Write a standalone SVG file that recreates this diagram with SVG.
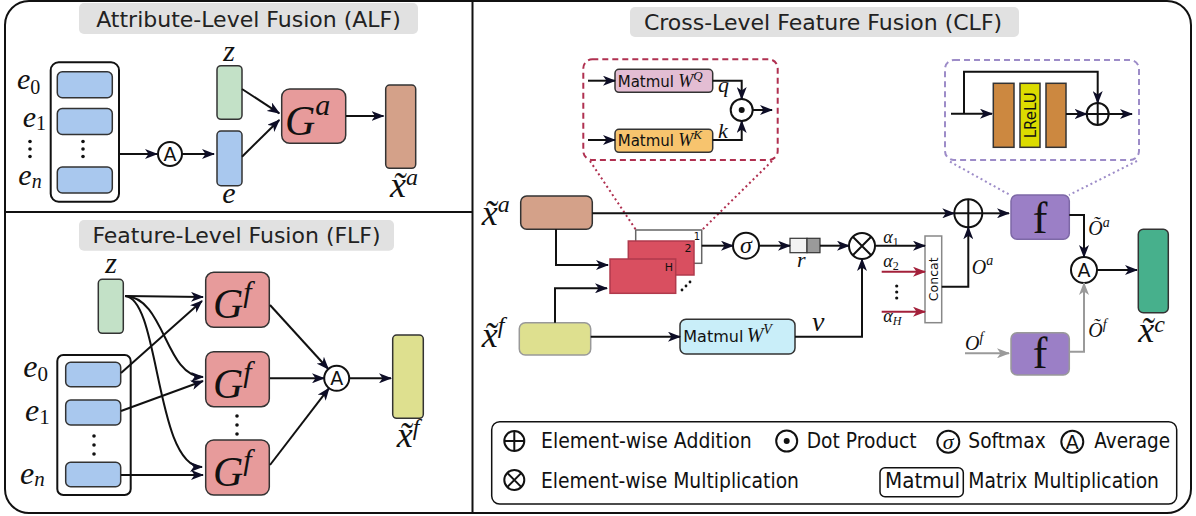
<svg xmlns="http://www.w3.org/2000/svg" width="1196" height="516" viewBox="0 0 1196 516">
<defs>
<style>
.frame{fill:none;stroke:#111;stroke-width:2}
.ttlbg{fill:#e1e1e1}
.ttl{font-family:"DejaVu Sans",sans-serif;font-size:22px;fill:#222;text-anchor:middle}
.sf{font-family:"DejaVu Sans",sans-serif;fill:#111}
.mi{font-family:"Liberation Serif",serif;font-style:italic;fill:#111}
.rm{font-family:"Liberation Serif",serif;font-style:normal;fill:#111}
.box{stroke:#333;stroke-width:1.5}
.blue{fill:#a9c8ee}
.green{fill:#c3e1c7}
.gbox{fill:#e79b9b}
.brown{fill:#d4a189}
.yel{fill:#dee08f}
.purple{fill:#9b7fc6}
.op{fill:#fff;stroke:#111;stroke-width:2}
.opl{fill:none;stroke:#111;stroke-width:2}
.ln{fill:none;stroke:#111;stroke-width:2}
.arr{fill:none;stroke:#111;stroke-width:2;marker-end:url(#ah)}
.arrr{fill:none;stroke:#a3203a;stroke-width:2;marker-end:url(#ahr)}
.arrg{fill:none;stroke:#9a9a9a;stroke-width:2;marker-end:url(#ahg)}
.dotr{fill:none;stroke:#b03050;stroke-width:2;stroke-dasharray:2 3}
.dotp{fill:none;stroke:#9d8cc8;stroke-width:2;stroke-dasharray:2 3}
.dot{fill:#111}
.lg{font-family:"DejaVu Sans",sans-serif;fill:#111;font-size:21px}
</style>
<marker id="ah" viewBox="0 0 13 10" refX="12" refY="5" markerWidth="13" markerHeight="10" markerUnits="userSpaceOnUse" orient="auto"><path d="M0,0 L13,5 L0,10 L3.5,5 z" fill="#0d0d26"/></marker>
<marker id="ahr" viewBox="0 0 13 10" refX="12" refY="5" markerWidth="13" markerHeight="10" markerUnits="userSpaceOnUse" orient="auto"><path d="M0,0 L13,5 L0,10 L3.5,5 z" fill="#a3203a"/></marker>
<marker id="ahg" viewBox="0 0 13 10" refX="12" refY="5" markerWidth="13" markerHeight="10" markerUnits="userSpaceOnUse" orient="auto"><path d="M0,0 L13,5 L0,10 L3.5,5 z" fill="#9a9a9a"/></marker>
</defs>
<rect width="1196" height="516" fill="#fff"/>

<!-- frame -->
<g id="frame">
<rect class="frame" x="5" y="1" width="1186" height="512" rx="24"/>
<line class="frame" x1="472.5" y1="1" x2="472.5" y2="513"/>
<line class="frame" x1="5" y1="212" x2="472.5" y2="212"/>
</g>

<!-- ===== ALF ===== -->
<g id="alf-title">
<rect class="ttlbg" x="79" y="3" width="339" height="31" rx="5"/>
<text class="ttl" x="248.5" y="27">Attribute-Level Fusion (ALF)</text>
</g>
<g id="alf-e-stack">
<rect x="50.7" y="62.3" width="68.3" height="139.4" rx="8" fill="#fff" stroke="#111" stroke-width="2"/>
<rect class="box blue" x="57.3" y="71.7" width="55" height="26" rx="5"/>
<rect class="box blue" x="57.3" y="108.5" width="55" height="26" rx="5"/>
<rect class="box blue" x="57.3" y="167" width="55" height="26" rx="5"/>
<circle class="dot" cx="83" cy="141.5" r="1.8"/><circle class="dot" cx="83" cy="149" r="1.8"/><circle class="dot" cx="83" cy="156.5" r="1.8"/>
<circle class="dot" cx="30" cy="141.5" r="1.8"/><circle class="dot" cx="30" cy="149" r="1.8"/><circle class="dot" cx="30" cy="156.5" r="1.8"/>
<text class="mi" x="17" y="89" font-size="30">e<tspan class="rm" font-size="20" dy="5">0</tspan></text>
<text class="mi" x="22.7" y="127" font-size="30">e<tspan class="rm" font-size="20" dy="3">1</tspan></text>
<text class="mi" x="18.3" y="185" font-size="30">e<tspan font-size="20" dy="3">n</tspan></text>
</g>
<g id="alf-avg">
<circle class="op" cx="170" cy="154" r="12"/>
<text class="sf" x="170" y="161" font-size="19" text-anchor="middle">A</text>
</g>
<g id="alf-z">
<rect class="box green" x="217" y="65.7" width="25" height="53.6" rx="4"/>
<text class="mi" x="229" y="61" font-size="30" text-anchor="middle">z</text>
</g>
<g id="alf-e">
<rect class="box blue" x="217" y="131" width="25" height="54.7" rx="4"/>
<text class="mi" x="229" y="203" font-size="30" text-anchor="middle">e</text>
</g>
<g id="alf-Ga">
<rect class="box gbox" x="281.7" y="89" width="64" height="54.3" rx="8"/>
<text class="mi" x="285" y="135" font-size="42">G<tspan font-size="30" dy="-20">a</tspan></text>
</g>
<g id="alf-xa">
<rect class="box brown" x="385.7" y="85" width="30" height="83.3" rx="4"/>
<text class="mi" x="390" y="197" font-size="36">x&#x303;<tspan font-size="24" dy="-12">a</tspan></text>
</g>

<!-- ===== FLF ===== -->
<g id="flf-title">
<rect class="ttlbg" x="79" y="220" width="315" height="30.7" rx="5"/>
<text class="ttl" x="236.5" y="243">Feature-Level Fusion (FLF)</text>
</g>
<g id="flf-z">
<rect class="box green" x="98.3" y="279.3" width="25" height="54" rx="4"/>
<text class="mi" x="111" y="273" font-size="30" text-anchor="middle">z</text>
</g>
<g id="flf-e-stack">
<rect x="57.3" y="355" width="73.4" height="140" rx="6" fill="#fff" stroke="#111" stroke-width="2"/>
<rect class="box blue" x="65.7" y="362.3" width="55" height="24.4" rx="5"/>
<rect class="box blue" x="65.7" y="400" width="55" height="25" rx="5"/>
<rect class="box blue" x="65.7" y="462.3" width="55" height="24.4" rx="5"/>
<circle class="dot" cx="94" cy="436" r="1.8"/><circle class="dot" cx="94" cy="445" r="1.8"/><circle class="dot" cx="94" cy="454" r="1.8"/>
<text class="mi" x="23.3" y="376.7" font-size="32">e<tspan class="rm" font-size="21" dy="4">0</tspan></text>
<text class="mi" x="25" y="420.7" font-size="32">e<tspan class="rm" font-size="21" dy="3">1</tspan></text>
<text class="mi" x="20" y="484" font-size="32">e<tspan font-size="21" dy="2">n</tspan></text>
</g>
<g id="flf-G1">
<rect class="box gbox" x="205.7" y="272.3" width="63.6" height="55" rx="8"/>
<text class="mi" x="213" y="318.3" font-size="42">G<tspan font-size="30" dy="-16">f</tspan></text>
</g>
<g id="flf-G2">
<rect class="box gbox" x="205.7" y="351.7" width="63.6" height="55" rx="8"/>
<text class="mi" x="213" y="397.7" font-size="42">G<tspan font-size="30" dy="-16">f</tspan></text>
</g>
<g id="flf-dots">
<circle class="dot" cx="237" cy="416" r="1.8"/><circle class="dot" cx="237" cy="425" r="1.8"/><circle class="dot" cx="237" cy="434" r="1.8"/>
</g>
<g id="flf-G3">
<rect class="box gbox" x="205.7" y="440" width="63.6" height="55" rx="8"/>
<text class="mi" x="213" y="486" font-size="42">G<tspan font-size="30" dy="-16">f</tspan></text>
</g>
<g id="flf-avg">
<circle class="op" cx="336.7" cy="378.3" r="12.5"/>
<text class="sf" x="336.7" y="385.3" font-size="19" text-anchor="middle">A</text>
</g>
<g id="flf-xf">
<rect class="box yel" x="392.7" y="335" width="30.6" height="83.3" rx="4"/>
<text class="mi" x="396.7" y="447" font-size="36">x&#x303;<tspan font-size="24" dy="-12">f</tspan></text>
</g>

<!-- ===== CLF ===== -->
<g id="clf-title">
<rect class="ttlbg" x="630" y="7" width="389" height="30" rx="5"/>
<text class="ttl" x="823" y="30">Cross-Level Feature Fusion (CLF)</text>
</g>
<g id="clf-attn-detail">
<rect x="583.3" y="59.3" width="194.4" height="100.7" rx="9" fill="none" stroke="#b03050" stroke-width="2" stroke-dasharray="6 4"/>
<rect class="box" x="615" y="69.3" width="97.7" height="23" rx="4" fill="#e3bdd3"/>
<text x="617.7" y="86.7"><tspan class="sf" font-size="15">Matmul</tspan><tspan class="mi" x="678.3" font-size="18">W</tspan><tspan class="mi" font-size="13" dy="-7">Q</tspan></text>
<rect class="box" x="615" y="129.3" width="97.7" height="23" rx="4" fill="#f7c46e"/>
<text x="617.7" y="146"><tspan class="sf" font-size="15">Matmul</tspan><tspan class="mi" x="678.3" font-size="18">W</tspan><tspan class="mi" font-size="13" dy="-7">K</tspan></text>
<circle class="op" cx="741.7" cy="110" r="11"/>
<circle class="dot" cx="741.7" cy="110" r="3"/>
<text class="mi" x="718" y="92" font-size="22">q</text>
<text class="mi" x="718" y="138.3" font-size="22">k</text>
</g>
<g id="clf-res-detail">
<rect x="945" y="60" width="194" height="100" rx="9" fill="none" stroke="#9d8cc8" stroke-width="2" stroke-dasharray="6 4"/>
<rect class="box" x="993.3" y="83.3" width="20.7" height="64" fill="#cc8840"/>
<rect class="box" x="1020" y="83.3" width="20" height="64" fill="#dcdc00"/>
<text class="sf" transform="translate(1035.5,115.3) rotate(-90)" x="0" y="0" font-size="15" text-anchor="middle">LReLU</text>
<rect class="box" x="1046" y="83.3" width="20" height="64" fill="#cc8840"/>
<circle class="op" cx="1097.7" cy="114" r="11"/>
<path class="opl" d="M1086.7,114 H1108.7 M1097.7,103 V125"/>
</g>
<g id="clf-xa">
<rect class="box brown" x="520.7" y="196" width="71.6" height="33.3" rx="6"/>
<text class="mi" x="481.7" y="225" font-size="36">x&#x303;<tspan font-size="24" dy="-13">a</tspan></text>
</g>
<g id="clf-xf">
<rect x="519.3" y="322.7" width="71.4" height="32.3" rx="6" fill="#dee08f" stroke="#999" stroke-width="1.5"/>
<text class="mi" x="481.7" y="346.7" font-size="36">x&#x303;<tspan font-size="24" dy="-14">f</tspan></text>
</g>
<g id="clf-heads">
<rect x="635.7" y="230" width="66" height="33.3" fill="#fff" stroke="#666" stroke-width="1.5"/>
<text class="sf" x="697" y="239.5" font-size="10" fill="#555" text-anchor="middle">1</text>
<rect x="628.3" y="241" width="65.7" height="34" fill="#d94f60" stroke="#b03a4c" stroke-width="1.5"/>
<text class="sf" x="688" y="252" font-size="11" text-anchor="middle">2</text>
<rect x="610" y="259" width="65.7" height="34.3" fill="#d94f60" stroke="#b03a4c" stroke-width="1.5"/>
<text class="sf" x="669" y="271" font-size="11" text-anchor="middle">H</text>
<circle class="dot" cx="682" cy="290" r="1.4"/><circle class="dot" cx="686" cy="286" r="1.4"/><circle class="dot" cx="690" cy="282" r="1.4"/>
</g>
<g id="clf-softmax">
<circle class="op" cx="746" cy="245.7" r="13"/>
<text class="mi" x="746" y="253" font-size="24" text-anchor="middle">σ</text>
</g>
<g id="clf-r">
<rect x="790" y="238.3" width="17" height="14.4" fill="#f2f2f2" stroke="#333" stroke-width="1.2"/>
<rect x="807" y="238.3" width="13" height="14.4" fill="#9a9a9a" stroke="#333" stroke-width="1.2"/>
<text class="mi" x="797" y="267" font-size="22">r</text>
</g>
<g id="clf-Wv">
<rect class="box" x="680" y="319.3" width="115" height="34.7" rx="6" fill="#c9eef9"/>
<text x="683.3" y="341.7"><tspan class="sf" font-size="16">Matmul</tspan><tspan class="mi" x="746.7" font-size="20">W</tspan><tspan class="mi" font-size="14" dy="-8">V</tspan></text>
</g>
<g id="clf-mul">
<circle class="op" cx="862" cy="246" r="13"/>
<path class="opl" d="M852.8,236.8 L871.2,255.2 M871.2,236.8 L852.8,255.2"/>
</g>
<g id="clf-concat">
<rect x="925" y="236" width="16.7" height="86.7" fill="#fff" stroke="#888" stroke-width="1.5"/>
<text class="sf" transform="translate(937.8,279.3) rotate(-90)" x="0" y="0" font-size="12.5" text-anchor="middle">Concat</text>
</g>
<g id="clf-add">
<circle class="op" cx="968.3" cy="213.3" r="14"/>
<path class="opl" d="M954.3,213.3 H982.3 M968.3,199.3 V227.3"/>
</g>
<g id="clf-f-top">
<rect x="1011" y="195" width="58.3" height="44.3" rx="6" class="purple" stroke="#7d68a6" stroke-width="1.5"/>
<text class="rm" x="1040" y="233.3" font-size="44" text-anchor="middle">f</text>
</g>
<g id="clf-f-bot">
<rect x="1011" y="332.7" width="58.3" height="42.3" rx="6" class="purple" stroke="#999" stroke-width="1.5"/>
<text class="rm" x="1040" y="368.3" font-size="44" text-anchor="middle">f</text>
</g>
<g id="clf-avg">
<circle class="op" cx="1084" cy="270" r="13"/>
<text class="sf" x="1084" y="277" font-size="19" text-anchor="middle">A</text>
</g>
<g id="clf-xc">
<rect class="box" x="1138.3" y="229.3" width="30" height="83.4" rx="5" fill="#47b08c"/>
<text class="mi" x="1138.3" y="341.7" font-size="36">x&#x303;<tspan font-size="24" dy="-10">c</tspan></text>
</g>

<!-- connectors -->
<g id="connectors">
<!-- ALF -->
<line class="arr" x1="120" y1="154" x2="157" y2="154"/>
<line class="arr" x1="182" y1="154" x2="214" y2="154"/>
<line class="arr" x1="242" y1="89" x2="279.3" y2="113.3"/>
<line class="arr" x1="242" y1="156.7" x2="279.3" y2="120"/>
<line class="arr" x1="346" y1="116" x2="383.5" y2="116"/>
<!-- FLF -->
<line class="arr" x1="125" y1="296" x2="203" y2="297"/>
<path class="arr" d="M125,296 C165,297 165,377 203,377"/>
<path class="arr" d="M125,296 C160,298 155,467 202,467"/>
<line class="arr" x1="121" y1="373" x2="202" y2="301"/>
<line class="arr" x1="121" y1="411" x2="203" y2="381"/>
<line class="arr" x1="121" y1="475" x2="203" y2="475"/>
<line class="arr" x1="270" y1="305" x2="328.3" y2="369"/>
<line class="arr" x1="270" y1="378.3" x2="324" y2="378.3"/>
<line class="arr" x1="270" y1="465" x2="329" y2="388.2"/>
<line class="arr" x1="349" y1="378.3" x2="391" y2="378.3"/>
<!-- CLF attention detail -->
<line class="arr" x1="588" y1="80.7" x2="615" y2="80.7"/>
<line class="arr" x1="588" y1="140" x2="615" y2="140"/>
<path class="arr" d="M712.7,80.7 H741.7 V99"/>
<path class="arr" d="M712.7,140 H741.7 V121"/>
<line class="arr" x1="752.7" y1="110" x2="772" y2="110"/>
<line class="dotr" x1="590" y1="161" x2="636" y2="230"/>
<line class="dotr" x1="772" y1="161" x2="702" y2="230"/>
<!-- CLF residual detail -->
<line class="arr" x1="951" y1="113.7" x2="992" y2="113.7"/>
<path class="arr" d="M964,113.7 V71.7 H1097.7 V103"/>
<line class="arr" x1="1066" y1="114" x2="1086.7" y2="114"/>
<line class="arr" x1="1108.7" y1="114" x2="1132" y2="114"/>
<line class="dotp" x1="950" y1="161.7" x2="1010" y2="195"/>
<line class="dotp" x1="1137" y1="161" x2="1069" y2="195"/>
<!-- CLF main -->
<line class="arr" x1="592.3" y1="213.3" x2="954.3" y2="213.3"/>
<path class="arr" d="M556,229.3 V265 H608"/>
<path class="arr" d="M555,322.7 V288.3 H607"/>
<line class="arr" x1="701.7" y1="245.7" x2="733" y2="245.7"/>
<line class="arr" x1="759" y1="245.7" x2="790" y2="245.7"/>
<line class="arr" x1="820" y1="245.7" x2="849" y2="245.7"/>
<line class="arr" x1="590.7" y1="336.7" x2="680" y2="336.7"/>
<path class="arr" d="M795,336.7 H862 V259"/>
<line class="arr" x1="875" y1="245.7" x2="925" y2="245.7"/>
<line class="arrr" x1="881.7" y1="271.7" x2="925" y2="271.7"/>
<line class="arrr" x1="881.7" y1="311.7" x2="925" y2="311.7"/>
<path class="arr" d="M941.7,286.7 H968.3 V227.3"/>
<line class="arr" x1="982.3" y1="213.3" x2="1009" y2="213.3"/>
<path class="arr" d="M1069.3,215 H1084 V257"/>
<path class="arrg" d="M1069.3,351.7 H1084 V283"/>
<line class="arrg" x1="965" y1="353.3" x2="1009" y2="353.3"/>
<line class="arr" x1="1097" y1="270" x2="1137" y2="270"/>
</g>

<!-- connector labels -->
<g id="connector-labels">
<text class="mi" x="812" y="331" font-size="28">v</text>
<text class="mi" x="883.3" y="243" font-size="18">α<tspan class="rm" font-size="12" dy="3">1</tspan></text>
<text class="mi" x="883.3" y="267.3" font-size="18">α<tspan class="rm" font-size="12" dy="3">2</tspan></text>
<circle class="dot" cx="896.7" cy="286" r="1.6"/><circle class="dot" cx="896.7" cy="292" r="1.6"/><circle class="dot" cx="896.7" cy="298" r="1.6"/>
<text class="mi" x="883.3" y="322" font-size="18">α<tspan font-size="12" dy="3">H</tspan></text>
<text class="mi" x="971.7" y="274" font-size="20">O<tspan font-size="14" dy="-9">a</tspan></text>
<text class="mi" x="1088.3" y="235" font-size="20">Õ<tspan font-size="14" dy="-8">a</tspan></text>
<text class="mi" x="1088.3" y="336.7" font-size="20">Õ<tspan font-size="14" dy="-8">f</tspan></text>
<text class="mi" x="965" y="350" font-size="20">O<tspan font-size="14" dy="-8">f</tspan></text>
</g>

<!-- legend -->
<g id="legend">
<rect x="491.7" y="421.7" width="685" height="82.3" rx="8" fill="#fff" stroke="#111" stroke-width="1.5"/>
<circle class="op" cx="514.3" cy="441" r="10"/>
<path class="opl" d="M504.3,441 H524.3 M514.3,431 V451"/>
<text class="lg" x="541" y="448.3" textLength="210.7" lengthAdjust="spacingAndGlyphs">Element-wise Addition</text>
<circle class="op" cx="786.7" cy="441" r="10.5"/>
<circle class="dot" cx="786.7" cy="441" r="3"/>
<text class="lg" x="806.7" y="448.3" textLength="110" lengthAdjust="spacingAndGlyphs">Dot Product</text>
<circle class="op" cx="948.3" cy="441.7" r="11"/>
<text class="mi" x="948.3" y="448.5" font-size="22" text-anchor="middle">σ</text>
<text class="lg" x="968.3" y="448.3" textLength="77.4" lengthAdjust="spacingAndGlyphs">Softmax</text>
<circle class="op" cx="1072.3" cy="441.7" r="11"/>
<text class="sf" x="1072.3" y="448.5" font-size="19" text-anchor="middle">A</text>
<text class="lg" x="1094.3" y="448.3" textLength="75.7" lengthAdjust="spacingAndGlyphs">Average</text>
<circle class="op" cx="514.3" cy="480" r="10"/>
<path class="opl" d="M507.2,472.9 L521.4,487.1 M521.4,472.9 L507.2,487.1"/>
<text class="lg" x="541" y="488.3" textLength="258" lengthAdjust="spacingAndGlyphs">Element-wise Multiplication</text>
<rect x="880" y="467.7" width="83.3" height="29" rx="5" fill="#fff" stroke="#111" stroke-width="1.5"/>
<text class="lg" x="885" y="488.3" textLength="75" lengthAdjust="spacingAndGlyphs">Matmul</text>
<text class="lg" x="968.3" y="488.3" textLength="190.7" lengthAdjust="spacingAndGlyphs">Matrix Multiplication</text>
</g>
</svg>
